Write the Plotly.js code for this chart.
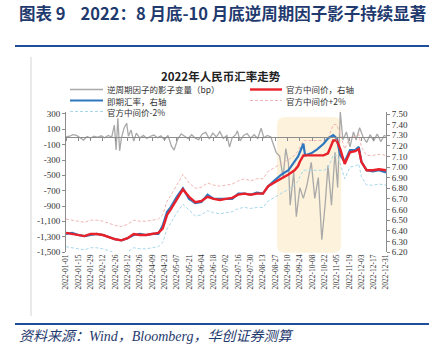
<!DOCTYPE html>
<html>
<head>
<meta charset="utf-8">
<script src="https://cdn.plot.ly/plotly-3.0.1.min.js"></script>
<style>html,body{margin:0;padding:0;background:#fff;}#chart{width:441px;height:354px;}</style>
</head>
<body>
<div id="chart"></div>
<script>
// ---- data ----
const fxDates = ['2022-01-01','2022-01-08','2022-01-15','2022-01-22','2022-01-29',
 '2022-02-05','2022-02-12','2022-02-19','2022-02-26',
 '2022-03-05','2022-03-12','2022-03-19','2022-03-26',
 '2022-04-02','2022-04-09','2022-04-16','2022-04-21','2022-04-26','2022-04-30',
 '2022-05-07','2022-05-14','2022-05-21','2022-05-28',
 '2022-06-04','2022-06-11','2022-06-18','2022-06-25',
 '2022-07-02','2022-07-09','2022-07-16','2022-07-23','2022-07-30',
 '2022-08-06','2022-08-13','2022-08-19','2022-08-27',
 '2022-09-03','2022-09-11','2022-09-18','2022-09-22','2022-09-24','2022-09-28','2022-09-30',
 '2022-10-07','2022-10-14','2022-10-21','2022-10-26','2022-10-28',
 '2022-11-01','2022-11-05','2022-11-09','2022-11-14','2022-11-20','2022-11-26','2022-11-30',
 '2022-12-03','2022-12-09','2022-12-16','2022-12-23','2022-12-31'];
const midRate = [6.38,6.37,6.36,6.35,6.37, 6.37,6.36,6.34,6.32, 6.31,6.33,6.37,6.36,
 6.36,6.37,6.38,6.42,6.55,6.60, 6.70,6.79,6.72,6.67, 6.68,6.72,6.70,6.69,
 6.70,6.71,6.74,6.75,6.74, 6.75,6.75,6.82,6.86, 6.89,6.93,6.97,7.01,7.05,7.11,7.11,
 7.11,7.11,7.11,7.13,7.17, 7.25,7.25,7.17,7.03,7.14,7.15,7.17, 7.05,6.97,6.97,6.98,6.97];
const spotRate = [6.37,6.38,6.36,6.35,6.36, 6.37,6.36,6.34,6.32, 6.31,6.33,6.36,6.37,
 6.36,6.37,6.37,6.45,6.58,6.62, 6.72,6.80,6.70,6.66, 6.67,6.74,6.70,6.70,
 6.70,6.70,6.75,6.75,6.74, 6.76,6.75,6.82,6.88, 6.93,6.97,7.05,7.10,7.14,7.22,7.11,
 7.13,7.17,7.22,7.27,7.28, 7.30,7.27,7.11,7.05,7.16,7.16,7.19, 7.05,6.97,6.96,6.97,6.95];
const midUpper = [6.51,6.50,6.49,6.48,6.50, 6.50,6.49,6.47,6.45, 6.44,6.46,6.50,6.49,
 6.49,6.50,6.51,6.55,6.68,6.73, 6.83,6.93,6.85,6.80, 6.81,6.85,6.83,6.82,
 6.83,6.84,6.87,6.89,6.87, 6.89,6.89,6.96,7.00, 7.03,7.07,7.11,7.15,7.19,7.25,7.25,
 7.25,7.25,7.25,7.27,7.31, 7.40,7.40,7.31,7.17,7.28,7.29,7.31, 7.19,7.11,7.11,7.12,7.11];
const midLower = [6.25,6.24,6.23,6.22,6.24, 6.24,6.23,6.21,6.19, 6.18,6.20,6.24,6.23,
 6.23,6.24,6.25,6.29,6.42,6.47, 6.57,6.65,6.59,6.54, 6.55,6.59,6.57,6.56,
 6.57,6.58,6.61,6.62,6.61, 6.62,6.62,6.68,6.72, 6.75,6.79,6.83,6.87,6.91,6.97,6.97,
 6.97,6.97,6.97,6.99,7.03, 7.11,7.11,7.03,6.89,7.00,7.01,7.03, 6.91,6.83,6.83,6.84,6.83];

const shadowDates = ['2022-01-01','2022-01-05','2022-01-09','2022-01-13','2022-01-17','2022-01-21','2022-01-25','2022-01-29',
 '2022-02-02','2022-02-06','2022-02-10','2022-02-14','2022-02-18','2022-02-22','2022-02-25','2022-02-27',
 '2022-03-01','2022-03-03','2022-03-05','2022-03-08','2022-03-11','2022-03-13','2022-03-16','2022-03-19','2022-03-22','2022-03-26','2022-03-30',
 '2022-04-03','2022-04-07','2022-04-11','2022-04-15','2022-04-19','2022-04-23','2022-04-27',
 '2022-05-01','2022-05-04','2022-05-08','2022-05-12','2022-05-16','2022-05-20','2022-05-24','2022-05-28',
 '2022-06-01','2022-06-05','2022-06-09','2022-06-13','2022-06-17','2022-06-21','2022-06-25','2022-06-29',
 '2022-07-03','2022-07-06','2022-07-09','2022-07-13','2022-07-15','2022-07-18','2022-07-22','2022-07-26','2022-07-30',
 '2022-08-03','2022-08-07','2022-08-11','2022-08-14','2022-08-18','2022-08-22','2022-08-25','2022-08-28',
 '2022-09-01','2022-09-05','2022-09-08','2022-09-11','2022-09-13','2022-09-17','2022-09-20','2022-09-24','2022-09-28',
 '2022-10-02','2022-10-07','2022-10-11','2022-10-15','2022-10-19','2022-10-23','2022-10-26','2022-10-30',
 '2022-11-03','2022-11-06','2022-11-09','2022-11-12','2022-11-16','2022-11-20','2022-11-24','2022-11-27',
 '2022-12-01','2022-12-05','2022-12-09','2022-12-13','2022-12-17','2022-12-21','2022-12-25','2022-12-29','2022-12-31'];
const shadowBp = [0,10,30,20,-10,-40,5,-15,
 10,-5,15,-10,20,0,155,-170,
 245,-180,-15,115,180,10,90,-55,50,-15,20,
 -20,10,25,-10,15,-35,20,
 -120,-170,-30,40,10,-20,30,-15,
 -35,40,60,-25,50,0,70,-20,
 20,-130,-10,30,80,-50,20,45,-15,
 30,-20,115,-10,20,0,-90,-200,
 -250,-530,-150,-340,-890,-460,-1040,-660,-800,
 -630,-330,-800,-530,-1340,-850,-370,-890,
 -200,-660,330,-40,65,-130,65,-40,
 120,0,-70,30,-50,40,-60,20,10];

const xTicks = ['2022-01-01','2022-01-15','2022-01-29','2022-02-12','2022-02-26','2022-03-12','2022-03-26',
 '2022-04-09','2022-04-23','2022-05-07','2022-05-21','2022-06-04','2022-06-18','2022-07-02','2022-07-16',
 '2022-07-30','2022-08-13','2022-08-27','2022-09-10','2022-09-24','2022-10-08','2022-10-22','2022-11-05',
 '2022-11-19','2022-12-03','2022-12-17','2022-12-31'];
const leftTicks = [-1500,-1300,-1100,-900,-700,-500,-300,-100,100,300];
const rightTicks = [6.2,6.3,6.4,6.5,6.6,6.7,6.8,6.9,7.0,7.1,7.2,7.3,7.4,7.5];
const seriesNames = ['逆周期因子的影子变量（bp）','官方中间价，右轴','即期汇率，右轴','官方中间价+2%','官方中间价-2%'];
const shadeStart = '2022-08-29', shadeEnd = '2022-11-10';

// ---- style ----
const C = {grey:'#a9a9a9', red:'#e8202a', blue:'#2f78c0', pink:'#f2b5b0', lblue:'#a6d8ec', axis:'#8c8c8c', navy:'#1f3a6e'};
const serif = 'Liberation Serif, Times New Roman, serif';
const cjk = 'Noto Sans CJK SC, sans-serif';
const NB = '\u00a0';
const DASH = '3px,2px';

const traces = [
 {x: fxDates, y: midUpper, yaxis:'y2', mode:'lines', line:{color:C.pink, width:1, dash:DASH}, name:seriesNames[3], hoverinfo:'skip'},
 {x: fxDates, y: midLower, yaxis:'y2', mode:'lines', line:{color:C.lblue, width:1, dash:DASH}, name:seriesNames[4], hoverinfo:'skip'},
 {x: shadowDates, y: shadowBp, yaxis:'y', mode:'lines', line:{color:C.grey, width:1.3}, name:seriesNames[0]},
 {x: fxDates, y: spotRate, yaxis:'y2', mode:'lines', line:{color:C.blue, width:2.2}, name:seriesNames[2]},
 {x: fxDates, y: midRate, yaxis:'y2', mode:'lines', line:{color:C.red, width:2.4}, name:seriesNames[1]},
 // empty trace so the zero-crossing date axis (x2) is built
 {x: [xTicks[0], xTicks[xTicks.length-1]], y: [null, null], xaxis:'x2', yaxis:'y', mode:'lines', line:{width:0}, hoverinfo:'skip', showlegend:false}
];

// pixel helpers for decoration placement (plot area: x 66..386, y 112..252)
const px = v => (v - 66) / 320;
const py = v => (252 - v) / 140;

const legendRows = [
 {col:0,row:0,color:C.grey,width:1.3,dash:'solid',text:seriesNames[0]},
 {col:0,row:1,color:C.blue,width:2.2,dash:'solid',text:seriesNames[2]},
 {col:0,row:2,color:C.lblue,width:1,dash:DASH,text:seriesNames[4]},
 {col:1,row:0,color:C.red,width:2.4,dash:'solid',text:seriesNames[1]},
 {col:1,row:1,color:C.pink,width:1,dash:DASH,text:seriesNames[3]}
];
const colX = [[70,103,106],[250,282,285]];
const rowY = [89.5,100.5,111.5];

const shapes = [];
const annotations = [];
// shaded period (rounded rect)
const rD = 9*86400000;
const d0 = new Date(shadeStart).getTime(), d1 = new Date(shadeEnd).getTime();
const fd = t => new Date(t).toISOString().slice(0,10);
const yb = -0.005, yt = py(117), ry = 8/140;
shapes.push({type:'path', xref:'x', yref:'paper', layer:'below', line:{width:0}, fillcolor:'#fdf3dc',
 path:`M${fd(d0+rD)},${yt} L${fd(d1-rD)},${yt} Q${fd(d1)},${yt} ${fd(d1)},${yt-ry} L${fd(d1)},${yb+ry} Q${fd(d1)},${yb} ${fd(d1-rD)},${yb} L${fd(d0+rD)},${yb} Q${fd(d0)},${yb} ${fd(d0)},${yb+ry} L${fd(d0)},${yt-ry} Q${fd(d0)},${yt} ${fd(d0+rD)},${yt} Z`});
// header rules and frame
shapes.push({type:'line', xref:'paper', yref:'paper', x0:px(15), x1:px(429), y0:py(46), y1:py(46), line:{color:'#1f4e9a', width:2.2}});
shapes.push({type:'line', xref:'paper', yref:'paper', x0:px(15), x1:px(429), y0:py(324), y1:py(324), line:{color:'#1f4e9a', width:2.2}});
shapes.push({type:'line', xref:'paper', yref:'paper', x0:px(31), x1:px(31), y0:py(57), y1:py(316), line:{color:'#d4d4d4', width:1}});
legendRows.forEach(r => {
 const c = colX[r.col];
 shapes.push({type:'line', xref:'paper', yref:'paper', x0:px(c[0]), x1:px(c[1]), y0:py(rowY[r.row]), y1:py(rowY[r.row]), line:{color:r.color, width:r.width, dash:r.dash}});
 annotations.push({xref:'paper', yref:'paper', x:px(c[2]), y:py(rowY[r.row]), xanchor:'left', yanchor:'middle', showarrow:false, borderpad:0,
  text:r.text, font:{family:cjk, size:8.5, color:'#333'}});
});
annotations.push({xref:'paper', yref:'paper', x:px(17), y:py(13), xanchor:'left', yanchor:'middle', showarrow:false,
 text:'<b>图表' + NB + '9' + NB+NB+NB+NB + '2022：8' + NB + '月底-10' + NB + '月底逆周期因子影子持续显著</b>', font:{family:cjk, size:16.5, color:C.navy}});
annotations.push({xref:'paper', yref:'paper', x:px(221), y:py(76), xanchor:'center', yanchor:'middle', showarrow:false,
 text:'<b>2022年人民币汇率走势</b>', font:{family:cjk, size:11.5, color:'#222'}});
annotations.push({xref:'paper', yref:'paper', x:px(17), y:py(336), xanchor:'left', yanchor:'middle', showarrow:false,
 text:'<i>资料来源：Wind，Bloomberg，华创证券测算</i>', font:{family:'Liberation Serif, Noto Sans CJK SC, serif', size:14, color:C.navy}});

const layout = {
 width:441, height:354, margin:{l:66, r:55, t:112, b:102, pad:0},
 paper_bgcolor:'#fff', plot_bgcolor:'rgba(0,0,0,0)', showlegend:false,
 xaxis:{type:'date', range:[xTicks[0], xTicks[xTicks.length-1]], tickmode:'array', tickvals:xTicks, ticktext:xTicks,
  tickangle:-90, tickfont:{family:serif, size:7.5, color:'#333'}, showline:false, ticks:'', showgrid:false, zeroline:false},
 xaxis2:{type:'date', overlaying:'x', anchor:'free', position:1500/1826, range:[xTicks[0], xTicks[xTicks.length-1]],
  tickmode:'array', tickvals:xTicks, showticklabels:false, ticks:'outside', ticklen:3, tickcolor:C.axis,
  showline:true, linecolor:C.axis, linewidth:1, showgrid:false, zeroline:false},
 yaxis:{range:[-1500, 326], tickmode:'array', tickvals:leftTicks, ticktext:leftTicks.map(v=>v.toLocaleString('en-US')),
  ticks:'outside', ticklen:3, tickcolor:C.axis, showline:true, linecolor:C.axis, linewidth:1,
  tickfont:{family:serif, size:9, color:'#333'}, showgrid:false, zeroline:false},
 yaxis2:{overlaying:'y', side:'right', range:[6.2, 7.519], tickmode:'array', tickvals:rightTicks, ticktext:rightTicks.map(v=>v.toFixed(2)),
  ticks:'outside', ticklen:3, tickcolor:C.axis, showline:true, linecolor:C.axis, linewidth:1,
  tickfont:{family:serif, size:9, color:'#333'}, showgrid:false, zeroline:false},
 shapes:shapes, annotations:annotations
};
Plotly.newPlot('chart', traces, layout, {staticPlot:true, displayModeBar:false});
</script>
</body>
</html>
